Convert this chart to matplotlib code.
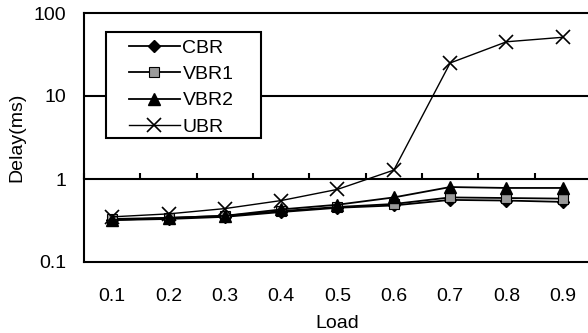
import numpy as np
import matplotlib
matplotlib.use('Agg')
import matplotlib.pyplot as plt
from matplotlib.ticker import FixedLocator, NullLocator
from matplotlib.patches import Rectangle

plt.rcParams['font.family'] = ['Liberation Sans', 'DejaVu Sans']

# values (delay in ms, log scale)
loads = ['0.1', '0.2', '0.3', '0.4', '0.5', '0.6', '0.7', '0.8', '0.9']
cbr = [0.32, 0.33, 0.35, 0.40, 0.45, 0.48, 0.56, 0.55, 0.53]
vbr1 = [0.33, 0.34, 0.36, 0.41, 0.46, 0.50, 0.60, 0.59, 0.58]
vbr2 = [0.32, 0.34, 0.36, 0.43, 0.49, 0.60, 0.80, 0.78, 0.78]
ubr = [0.35, 0.38, 0.44, 0.55, 0.75, 1.28, 25, 45, 51]

x = np.arange(1, len(loads) + 1)

fig = plt.figure(figsize=(5.88, 3.33), dpi=100)
ax = fig.add_axes([84 / 588, 1 - 262 / 333, 507 / 588, 249 / 333])

ax.plot(x, cbr, color='black', lw=1.3, marker='D', ms=6.5, mfc='black', mec='black', label='CBR')
ax.plot(x, vbr1, color='black', lw=1.3, marker='s', ms=7, mfc='#9a9a9a', mec='black', mew=0.8, label='VBR1')
ax.plot(x, vbr2, color='black', lw=1.3, marker='^', ms=8.5, mfc='black', mec='black', label='VBR2')
ax.plot(x, ubr, color='black', lw=1.0, marker='x', ms=10, mew=1.2, label='UBR')

ax.set_yscale('log')
ax.set_ylim(0.1, 100)
ax.set_xlim(0.5, len(loads) + 0.5)
ax.yaxis.set_major_locator(FixedLocator([0.1, 1, 10, 100]))
ax.yaxis.set_minor_locator(NullLocator())
ax.set_yticklabels(['0.1', '1', '10', '100'])
ax.tick_params(axis='y', length=0, pad=13, labelsize=14)
ax.axhline(10, color='black', lw=1.5, zorder=0.5)

# category axis crosses at 1, with tick marks between categories
ax.spines['bottom'].set_position(('data', 1))
ax.spines['bottom'].set_linewidth(1.5)
ax.set_xticks(np.arange(0.5, len(loads) + 1, 1))
ax.xaxis.set_minor_locator(NullLocator())
ax.tick_params(axis='x', direction='in', length=4, width=1.5, labelbottom=False)

# labels and bottom frame on a second axis
sec = ax.secondary_xaxis(0)
sec.set_xticks(x)
sec.set_xticklabels(loads)
sec.tick_params(length=0, pad=19, labelsize=14)
sec.spines['bottom'].set_linewidth(1.5)
sec.set_xlabel('Load', fontsize=14, labelpad=7)

for s in ['top', 'left', 'right']:
    ax.spines[s].set_linewidth(1.5)

ax.set_ylabel('Delay(ms)', fontsize=14, labelpad=6)

# legend box
frame = Rectangle((106 / 588, 1 - 138 / 333), 155 / 588, 106 / 333, transform=fig.transFigure,
                  facecolor='white', edgecolor='black', lw=1.5, zorder=4, clip_on=False)
ax.add_patch(frame)
leg = ax.legend(loc='upper left', bbox_to_anchor=(129 / 588, 1 - 39 / 333),
                bbox_transform=fig.transFigure, borderaxespad=0, borderpad=0, fontsize=14,
                frameon=False, handlelength=2.6, handletextpad=0.15, labelspacing=0.45)
leg.set_zorder(5)

fig.savefig('out.png', dpi=100)
